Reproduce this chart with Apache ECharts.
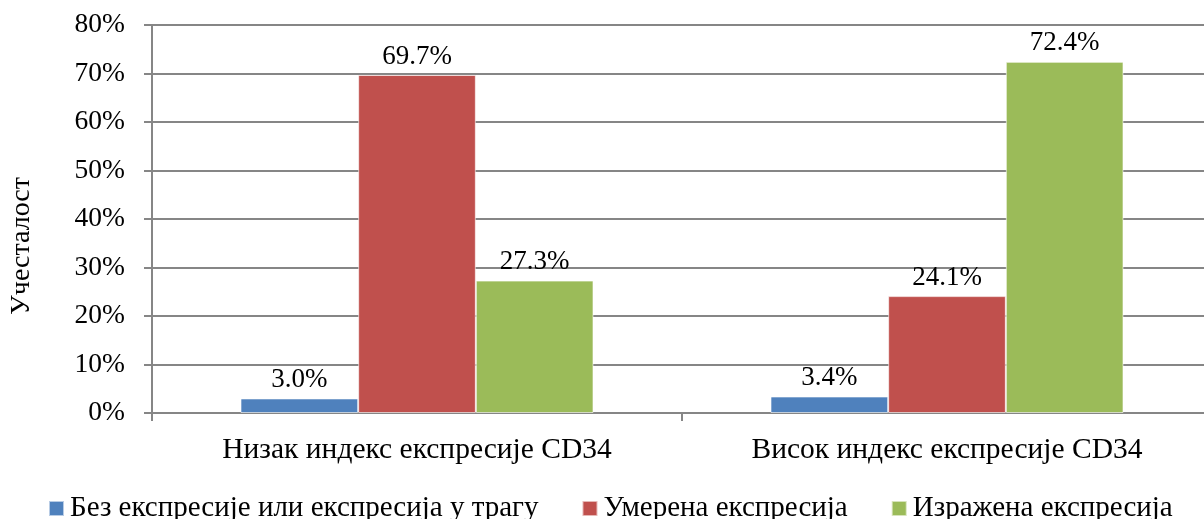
<!DOCTYPE html>
<html><head><meta charset="utf-8">
<script src="https://cdn.jsdelivr.net/npm/echarts@6/dist/echarts.min.js"></script>
<style>html,body{margin:0;padding:0;background:#fff}#c{width:1204px;height:519px}</style>
</head><body><div id="c"></div>
<script>
const categories = ['Низак индекс експресије CD34', 'Висок индекс експресије CD34'];
const seriesNames = ['Без експресије или експресија у трагу', 'Умерена експресија', 'Изражена експресија'];
const noneTrace = [3.0, 3.4];
const moderate = [69.7, 24.1];
const strong = [27.3, 72.4];
const yAxisTitle = 'Учесталост';
const colors = ['#4F81BD', '#C0504D', '#9BBB59'];
const font = 'Liberation Serif';

const chart = echarts.init(document.getElementById('c'));
const mk = (name, data, color) => ({
  name, type: 'bar', data, barGap: '0%', barCategoryGap: '33.4%',
  itemStyle: { color, borderColor: 'rgba(255,255,255,0.6)', borderWidth: 1 },
  label: { show: true, position: 'top', distance: 5, fontFamily: font, fontSize: 27, color: '#000',
           formatter: p => p.value.toFixed(1) + '%' }
});
chart.setOption({
  animation: false,
  textStyle: { fontFamily: font },
  grid: { left: 152, top: 25, width: 1060, height: 388, outerBoundsMode: 'none', containLabel: false },
  graphic: [{
    type: 'text', x: 22, y: 246, rotation: Math.PI / 2,
    style: { text: yAxisTitle, fontFamily: font, fontSize: 28, fill: '#000', align: 'center', verticalAlign: 'middle' }
  }],
  legend: {
    top: 489, left: 43, itemWidth: 15, itemHeight: 15, itemGap: 43,
    icon: 'rect',
    textStyle: { fontFamily: font, fontSize: 29, color: '#000', padding: [0, 0, 0, 1] },
    data: seriesNames
  },
  xAxis: {
    type: 'category', data: categories,
    axisLine: { lineStyle: { color: '#868686', width: 2 } },
    axisTick: { show: true, length: 8, lineStyle: { color: '#868686', width: 2 } },
    axisLabel: { fontFamily: font, fontSize: 29.5, color: '#000', margin: 22 }
  },
  yAxis: {
    type: 'value', min: 0, max: 80, interval: 10,
    axisLine: { show: true, lineStyle: { color: '#868686', width: 2 } },
    axisTick: { show: true, length: 8, lineStyle: { color: '#868686', width: 2 } },
    splitLine: { lineStyle: { color: '#868686', width: 2 } },
    axisLabel: { fontFamily: font, fontSize: 27.5, color: '#000', margin: 27, formatter: v => v + '%' }
  },
  series: [mk(seriesNames[0], noneTrace, colors[0]), mk(seriesNames[1], moderate, colors[1]), mk(seriesNames[2], strong, colors[2])]
});
</script></body></html>
